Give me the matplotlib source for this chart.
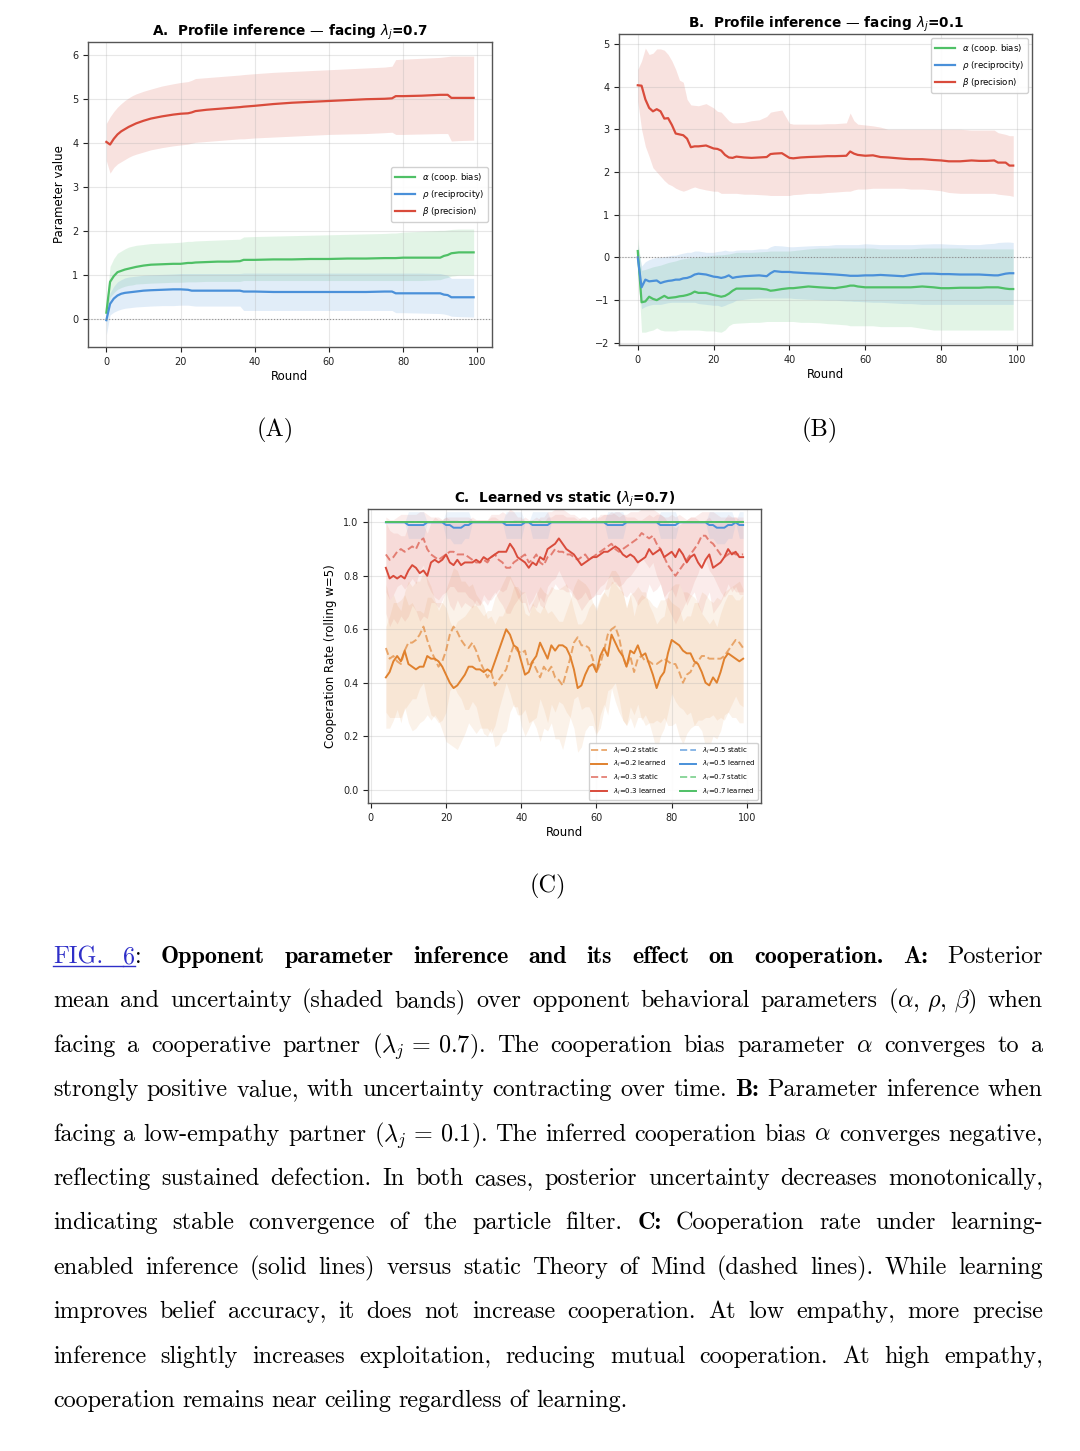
import re
import numpy as np
import matplotlib
matplotlib.use("Agg")
import matplotlib.pyplot as plt
from matplotlib.lines import Line2D

# ---------------- data: panel A (facing lambda_j = 0.7) ----------------
rounds_a = [0, 1, 2, 3, 4, 5, 6, 7, 8,
            10, 12, 15, 18, 20,
            22, 23, 24, 27, 30,
            33, 36, 37, 40, 45,
            50, 55, 60, 65, 70,
            75, 77, 78, 80, 85,
            90, 91, 92, 93, 95, 99]
beta_a = [4.03, 3.97, 4.10, 4.20, 4.27, 4.32, 4.37, 4.41, 4.45,
          4.51, 4.56, 4.61, 4.65, 4.67,
          4.68, 4.70, 4.73, 4.76, 4.78,
          4.80, 4.82, 4.83, 4.85, 4.89,
          4.92, 4.94, 4.96, 4.98, 5.00,
          5.01, 5.02, 5.07, 5.07, 5.08,
          5.10, 5.10, 5.10, 5.03, 5.03, 5.03]
beta_a_hi = [4.45, 4.60, 4.72, 4.82, 4.90, 4.97, 5.03, 5.08, 5.12,
             5.18, 5.23, 5.30, 5.35, 5.38,
             5.40, 5.43, 5.47, 5.49, 5.51,
             5.53, 5.55, 5.56, 5.58, 5.61,
             5.63, 5.65, 5.67, 5.69, 5.71,
             5.73, 5.75, 5.90, 5.91, 5.93,
             5.95, 5.96, 5.97, 5.98, 5.98, 5.98]
beta_a_lo = [3.60, 3.32, 3.45, 3.53, 3.58, 3.63, 3.68, 3.72, 3.75,
             3.80, 3.85, 3.90, 3.94, 3.96,
             3.98, 4.00, 4.02, 4.04, 4.06,
             4.08, 4.10, 4.10, 4.12, 4.14,
             4.16, 4.18, 4.20, 4.21, 4.22,
             4.24, 4.25, 4.20, 4.20, 4.21,
             4.22, 4.22, 4.22, 4.05, 4.06, 4.07]
alpha_a = [0.15, 0.85, 0.98, 1.07, 1.10, 1.13, 1.15, 1.17, 1.19,
           1.22, 1.24, 1.25, 1.26, 1.26,
           1.28, 1.28, 1.29, 1.30, 1.31,
           1.31, 1.32, 1.35, 1.35, 1.36,
           1.36, 1.37, 1.37, 1.38, 1.38,
           1.39, 1.39, 1.39, 1.40, 1.40,
           1.40, 1.44, 1.46, 1.50, 1.52, 1.52]
alpha_a_hi = [0.35, 1.20, 1.38, 1.50, 1.55, 1.60, 1.64, 1.66, 1.68,
              1.70, 1.72, 1.73, 1.74, 1.75,
              1.77, 1.77, 1.78, 1.79, 1.80,
              1.81, 1.82, 1.87, 1.88, 1.89,
              1.90, 1.91, 1.92, 1.93, 1.94,
              1.95, 1.96, 1.96, 1.98, 2.00,
              2.02, 2.02, 2.03, 2.04, 2.05, 2.05]
alpha_a_lo = [-0.05, 0.50, 0.60, 0.68, 0.72, 0.75, 0.77, 0.78, 0.80,
              0.81, 0.82, 0.83, 0.84, 0.84,
              0.85, 0.85, 0.85, 0.86, 0.86,
              0.86, 0.86, 0.88, 0.88, 0.88,
              0.88, 0.88, 0.88, 0.88, 0.88,
              0.88, 0.88, 0.88, 0.88, 0.88,
              0.90, 0.93, 0.95, 0.98, 1.00, 1.00]
rho_a = [-0.02, 0.35, 0.47, 0.54, 0.58, 0.60, 0.61, 0.62, 0.63,
         0.65, 0.66, 0.67, 0.68, 0.68,
         0.67, 0.65, 0.65, 0.65, 0.65,
         0.65, 0.65, 0.63, 0.63, 0.62,
         0.62, 0.62, 0.62, 0.62, 0.62,
         0.63, 0.63, 0.59, 0.59, 0.59,
         0.59, 0.56, 0.55, 0.50, 0.50, 0.50]
rho_a_hi = [0.25, 0.60, 0.75, 0.85, 0.90, 0.94, 0.96, 0.97, 0.98,
            1.00, 1.01, 1.02, 1.03, 1.04,
            1.04, 1.04, 1.04, 1.04, 1.04,
            1.04, 1.04, 1.05, 1.05, 1.05,
            1.05, 1.05, 1.05, 1.05, 1.05,
            1.05, 1.05, 1.05, 1.05, 1.05,
            1.04, 1.02, 1.00, 0.93, 0.93, 0.93]
rho_a_lo = [-0.35, 0.10, 0.16, 0.20, 0.23, 0.25, 0.26, 0.27, 0.28,
            0.29, 0.30, 0.31, 0.31, 0.32,
            0.32, 0.31, 0.30, 0.30, 0.30,
            0.30, 0.30, 0.20, 0.20, 0.20,
            0.20, 0.20, 0.20, 0.20, 0.20,
            0.20, 0.20, 0.15, 0.15, 0.14,
            0.13, 0.12, 0.10, 0.07, 0.06, 0.05]

# ---------------- data: panel B (facing lambda_j = 0.1) ----------------
rounds_b = [0, 1, 2, 3, 4, 5, 6, 7, 8, 9,
            10, 11, 12, 13, 14, 15, 16, 18, 20, 21,
            22, 23, 24, 25, 26, 28, 30, 32, 34, 35,
            36, 38, 40, 41, 43, 45, 48, 50, 52, 55,
            56, 57, 58, 60, 62, 64, 66, 70, 72, 75,
            78, 80, 82, 85, 88, 90, 92, 94, 95, 97,
            98, 99]
beta_b = [4.03, 4.02, 3.70, 3.50, 3.42, 3.47, 3.42, 3.25, 3.26, 3.10,
          2.90, 2.88, 2.86, 2.78, 2.58, 2.60, 2.60, 2.62, 2.55, 2.54,
          2.50, 2.40, 2.34, 2.33, 2.36, 2.34, 2.33, 2.34, 2.35, 2.42,
          2.43, 2.44, 2.33, 2.32, 2.34, 2.35, 2.36, 2.37, 2.37, 2.38,
          2.48, 2.43, 2.40, 2.38, 2.39, 2.35, 2.34, 2.31, 2.30, 2.30,
          2.28, 2.27, 2.25, 2.25, 2.27, 2.26, 2.26, 2.27, 2.22, 2.22,
          2.15, 2.15]
beta_b_hi = [4.40, 4.60, 4.90, 4.75, 4.78, 4.88, 4.88, 4.85, 4.75, 4.60,
             4.40, 4.15, 4.10, 3.70, 3.57, 3.56, 3.55, 3.60, 3.50, 3.42,
             3.40, 3.30, 3.20, 3.15, 3.15, 3.16, 3.20, 3.22, 3.30, 3.40,
             3.42, 3.45, 3.14, 3.12, 3.12, 3.12, 3.12, 3.13, 3.13, 3.15,
             3.38, 3.20, 3.12, 3.10, 3.08, 3.05, 3.00, 3.00, 3.00, 3.00,
             3.00, 3.00, 3.00, 3.00, 2.98, 2.98, 2.98, 2.98, 2.92, 2.88,
             2.85, 2.85]
beta_b_lo = [3.65, 3.00, 2.60, 2.36, 2.10, 2.00, 1.90, 1.80, 1.72, 1.68,
             1.62, 1.58, 1.55, 1.58, 1.62, 1.65, 1.62, 1.58, 1.55, 1.55,
             1.50, 1.50, 1.50, 1.50, 1.50, 1.48, 1.48, 1.47, 1.46, 1.45,
             1.45, 1.45, 1.45, 1.47, 1.48, 1.50, 1.50, 1.52, 1.53, 1.55,
             1.55, 1.58, 1.60, 1.60, 1.62, 1.62, 1.62, 1.62, 1.60, 1.60,
             1.58, 1.56, 1.52, 1.50, 1.50, 1.50, 1.50, 1.50, 1.48, 1.46,
             1.45, 1.43]
rho_b = [0.00, -0.70, -0.52, -0.56, -0.55, -0.54, -0.60, -0.57, -0.55, -0.54,
         -0.52, -0.52, -0.49, -0.48, -0.45, -0.40, -0.38, -0.40, -0.45, -0.46,
         -0.48, -0.46, -0.42, -0.48, -0.46, -0.44, -0.43, -0.42, -0.44, -0.37,
         -0.32, -0.34, -0.34, -0.35, -0.36, -0.37, -0.38, -0.39, -0.40, -0.42,
         -0.43, -0.43, -0.43, -0.42, -0.42, -0.41, -0.42, -0.44, -0.41, -0.38,
         -0.38, -0.39, -0.39, -0.40, -0.40, -0.40, -0.41, -0.42, -0.42, -0.38,
         -0.37, -0.37]
rho_b_hi = [0.30, -0.20, -0.10, -0.05, -0.02, 0.00, 0.00, 0.02, 0.03, 0.05,
            0.05, 0.08, 0.10, 0.12, 0.12, 0.15, 0.15, 0.12, 0.12, 0.14,
            0.15, 0.17, 0.15, 0.15, 0.17, 0.18, 0.18, 0.20, 0.20, 0.25,
            0.28, 0.27, 0.25, 0.25, 0.26, 0.27, 0.28, 0.28, 0.30, 0.30,
            0.30, 0.30, 0.30, 0.32, 0.31, 0.30, 0.30, 0.30, 0.30, 0.31,
            0.32, 0.32, 0.31, 0.30, 0.30, 0.30, 0.32, 0.33, 0.35, 0.36,
            0.36, 0.35]
rho_b_lo = [-0.25, -1.20, -1.15, -1.12, -1.10, -1.10, -1.10, -1.08, -1.06, -1.05,
            -1.05, -1.05, -1.05, -1.05, -1.05, -1.05, -1.08, -1.10, -1.12, -1.12,
            -1.15, -1.12, -1.08, -1.05, -1.00, -0.98, -0.96, -0.95, -0.95, -0.95,
            -0.95, -0.95, -0.95, -0.96, -0.97, -0.98, -0.99, -1.00, -1.00, -1.02,
            -1.02, -1.03, -1.03, -1.04, -1.05, -1.05, -1.06, -1.08, -1.08, -1.10,
            -1.10, -1.10, -1.10, -1.10, -1.10, -1.10, -1.10, -1.10, -1.10, -1.10,
            -1.10, -1.10]
alpha_b = [0.15, -1.05, -1.03, -0.92, -0.97, -1.00, -0.95, -0.90, -0.95, -0.94,
           -0.93, -0.91, -0.90, -0.88, -0.85, -0.80, -0.83, -0.83, -0.88, -0.90,
           -0.92, -0.90, -0.85, -0.78, -0.73, -0.73, -0.73, -0.73, -0.75, -0.78,
           -0.77, -0.74, -0.72, -0.72, -0.70, -0.68, -0.70, -0.71, -0.72, -0.68,
           -0.66, -0.66, -0.68, -0.70, -0.70, -0.70, -0.70, -0.70, -0.70, -0.68,
           -0.70, -0.72, -0.72, -0.71, -0.71, -0.71, -0.70, -0.70, -0.70, -0.73,
           -0.74, -0.74]
alpha_b_hi = [0.45, -0.30, -0.28, -0.25, -0.22, -0.20, -0.18, -0.15, -0.12, -0.10,
              -0.08, -0.05, -0.03, -0.02, 0.00, 0.00, 0.02, 0.03, 0.05, 0.06,
              0.06, 0.07, 0.08, 0.10, 0.12, 0.12, 0.12, 0.13, 0.14, 0.15,
              0.15, 0.15, 0.15, 0.16, 0.18, 0.20, 0.22, 0.22, 0.22, 0.22,
              0.22, 0.22, 0.22, 0.22, 0.22, 0.20, 0.20, 0.20, 0.20, 0.22,
              0.22, 0.22, 0.22, 0.22, 0.20, 0.20, 0.20, 0.20, 0.20, 0.20,
              0.20, 0.20]
alpha_b_lo = [-0.15, -1.75, -1.75, -1.72, -1.70, -1.65, -1.70, -1.72, -1.72, -1.72,
              -1.72, -1.70, -1.70, -1.70, -1.70, -1.70, -1.70, -1.72, -1.72, -1.74,
              -1.75, -1.70, -1.60, -1.55, -1.54, -1.53, -1.52, -1.52, -1.50, -1.50,
              -1.50, -1.50, -1.50, -1.50, -1.52, -1.52, -1.53, -1.55, -1.56, -1.58,
              -1.60, -1.60, -1.60, -1.60, -1.60, -1.62, -1.62, -1.62, -1.62, -1.66,
              -1.70, -1.70, -1.70, -1.70, -1.70, -1.70, -1.70, -1.70, -1.70, -1.70,
              -1.70, -1.70]

# ---------------- data: panel C (rolling w=5, rounds 4..99) ----------------
rounds_c = np.arange(4, 100)
coop_02_learned = [0.42, 0.44, 0.48, 0.50, 0.48, 0.52, 0.47, 0.46, 0.45, 0.46,
                   0.46, 0.50, 0.49, 0.49, 0.48, 0.46, 0.43, 0.40, 0.38, 0.39,
                   0.41, 0.43, 0.46, 0.46, 0.45, 0.45, 0.44, 0.45, 0.44, 0.48,
                   0.52, 0.56, 0.60, 0.58, 0.54, 0.53, 0.48, 0.43, 0.44, 0.48,
                   0.50, 0.55, 0.52, 0.49, 0.54, 0.52, 0.54, 0.54, 0.53, 0.50,
                   0.45, 0.38, 0.39, 0.43, 0.46, 0.47, 0.44, 0.50, 0.53, 0.50,
                   0.58, 0.55, 0.52, 0.50, 0.46, 0.52, 0.51, 0.54, 0.50, 0.51,
                   0.47, 0.43, 0.38, 0.42, 0.44, 0.51, 0.56, 0.55, 0.54, 0.52,
                   0.51, 0.51, 0.48, 0.47, 0.44, 0.40, 0.39, 0.42, 0.40, 0.44,
                   0.49, 0.51, 0.50, 0.49, 0.48, 0.49]
coop_02_static = [0.53, 0.49, 0.50, 0.48, 0.47, 0.52, 0.55, 0.55, 0.56, 0.58,
                  0.61, 0.56, 0.52, 0.49, 0.46, 0.48, 0.52, 0.58, 0.61, 0.59,
                  0.56, 0.54, 0.53, 0.55, 0.52, 0.48, 0.45, 0.42, 0.44, 0.39,
                  0.41, 0.43, 0.45, 0.50, 0.54, 0.52, 0.51, 0.52, 0.46, 0.48,
                  0.45, 0.42, 0.46, 0.44, 0.46, 0.42, 0.41, 0.39, 0.44, 0.49,
                  0.55, 0.57, 0.54, 0.54, 0.53, 0.49, 0.44, 0.47, 0.52, 0.58,
                  0.60, 0.61, 0.57, 0.50, 0.46, 0.50, 0.44, 0.49, 0.50, 0.48,
                  0.48, 0.47, 0.47, 0.48, 0.49, 0.48, 0.47, 0.47, 0.44, 0.40,
                  0.43, 0.44, 0.47, 0.48, 0.50, 0.50, 0.49, 0.49, 0.49, 0.49,
                  0.50, 0.52, 0.54, 0.56, 0.55, 0.53]
coop_03_learned = [0.83, 0.79, 0.80, 0.79, 0.80, 0.79, 0.82, 0.84, 0.83, 0.81,
                   0.82, 0.80, 0.85, 0.86, 0.85, 0.86, 0.88, 0.85, 0.84, 0.86,
                   0.84, 0.85, 0.85, 0.85, 0.86, 0.85, 0.87, 0.86, 0.87, 0.88,
                   0.89, 0.89, 0.89, 0.92, 0.90, 0.87, 0.86, 0.85, 0.83, 0.85,
                   0.84, 0.87, 0.86, 0.90, 0.91, 0.92, 0.94, 0.92, 0.90, 0.89,
                   0.88, 0.86, 0.84, 0.85, 0.86, 0.87, 0.87, 0.88, 0.89, 0.89,
                   0.90, 0.91, 0.90, 0.88, 0.87, 0.88, 0.87, 0.85, 0.86, 0.87,
                   0.90, 0.88, 0.89, 0.90, 0.87, 0.88, 0.89, 0.87, 0.90, 0.88,
                   0.85, 0.87, 0.88, 0.85, 0.83, 0.86, 0.88, 0.83, 0.84, 0.85,
                   0.87, 0.90, 0.88, 0.89, 0.87, 0.87]
coop_03_static = [0.88, 0.86, 0.87, 0.89, 0.90, 0.89, 0.90, 0.91, 0.90, 0.93,
                  0.94, 0.90, 0.88, 0.87, 0.86, 0.87, 0.88, 0.89, 0.89, 0.88,
                  0.88, 0.88, 0.87, 0.86, 0.85, 0.85, 0.86, 0.85, 0.87, 0.88,
                  0.86, 0.85, 0.83, 0.83, 0.85, 0.86, 0.87, 0.88, 0.85, 0.86,
                  0.88, 0.85, 0.84, 0.87, 0.88, 0.90, 0.89, 0.89, 0.88, 0.88,
                  0.87, 0.86, 0.87, 0.88, 0.86, 0.87, 0.88, 0.89, 0.90, 0.91,
                  0.92, 0.90, 0.89, 0.90, 0.91, 0.92, 0.93, 0.94, 0.96, 0.95,
                  0.94, 0.95, 0.92, 0.90, 0.87, 0.84, 0.82, 0.80, 0.82, 0.84,
                  0.86, 0.88, 0.90, 0.92, 0.95, 0.95, 0.93, 0.92, 0.90, 0.88,
                  0.87, 0.88, 0.89, 0.88, 0.88, 0.88]
coop_05_learned = [1.00, 1.00, 1.00, 1.00, 1.00, 1.00, 0.99, 0.99, 0.99, 0.99,
                   0.99, 1.00, 1.00, 1.00, 1.00, 1.00, 0.99, 0.99, 0.98, 0.98,
                   0.98, 0.99, 0.99, 1.00, 1.00, 1.00, 1.00, 1.00, 1.00, 1.00,
                   1.00, 1.00, 0.99, 0.99, 0.99, 0.99, 0.99, 1.00, 1.00, 0.99,
                   0.99, 0.99, 0.99, 0.99, 1.00, 1.00, 1.00, 1.00, 1.00, 1.00,
                   1.00, 1.00, 1.00, 1.00, 1.00, 1.00, 1.00, 1.00, 1.00, 0.99,
                   0.99, 0.99, 0.99, 0.99, 1.00, 1.00, 1.00, 1.00, 1.00, 1.00,
                   1.00, 1.00, 1.00, 0.99, 0.99, 0.99, 0.99, 0.99, 1.00, 1.00,
                   1.00, 1.00, 1.00, 1.00, 1.00, 1.00, 0.99, 0.99, 0.98, 0.98,
                   0.98, 0.99, 0.99, 1.00, 0.99, 0.99]
coop_05_static = [1.00] * 96
coop_07_learned = [1.00] * 96
coop_07_static = [1.00] * 96

sd_02_learned = [0.19, 0.21, 0.22, 0.20, 0.23, 0.21, 0.22, 0.24, 0.22, 0.21,
                 0.20, 0.22, 0.23, 0.21, 0.22, 0.24, 0.25, 0.23, 0.22, 0.24,
                 0.23, 0.22, 0.21, 0.23, 0.24, 0.22, 0.21, 0.22, 0.23, 0.24,
                 0.22, 0.21, 0.20, 0.22, 0.23, 0.22, 0.24, 0.23, 0.21, 0.22,
                 0.23, 0.21, 0.22, 0.24, 0.22, 0.23, 0.21, 0.22, 0.24, 0.23,
                 0.22, 0.24, 0.23, 0.21, 0.22, 0.23, 0.24, 0.22, 0.21, 0.22,
                 0.20, 0.22, 0.23, 0.24, 0.22, 0.21, 0.23, 0.22, 0.24, 0.23,
                 0.22, 0.23, 0.24, 0.22, 0.21, 0.22, 0.20, 0.22, 0.23, 0.22,
                 0.23, 0.22, 0.24, 0.23, 0.22, 0.24, 0.23, 0.22, 0.21, 0.22,
                 0.21, 0.22, 0.23, 0.22, 0.23, 0.24]
sd_02_static = [0.24, 0.22, 0.23, 0.21, 0.20, 0.22, 0.23, 0.21, 0.22, 0.20,
                0.21, 0.23, 0.24, 0.22, 0.21, 0.22, 0.23, 0.21, 0.22, 0.23,
                0.22, 0.24, 0.23, 0.22, 0.21, 0.23, 0.24, 0.22, 0.21, 0.23,
                0.24, 0.22, 0.23, 0.21, 0.22, 0.24, 0.23, 0.22, 0.21, 0.22,
                0.22, 0.24, 0.23, 0.22, 0.21, 0.23, 0.22, 0.24, 0.23, 0.22,
                0.21, 0.22, 0.24, 0.23, 0.22, 0.21, 0.23, 0.24, 0.22, 0.21,
                0.22, 0.21, 0.23, 0.24, 0.22, 0.23, 0.21, 0.22, 0.23, 0.24,
                0.23, 0.22, 0.21, 0.23, 0.22, 0.24, 0.23, 0.22, 0.24, 0.23,
                0.22, 0.21, 0.23, 0.22, 0.24, 0.23, 0.22, 0.21, 0.23, 0.22,
                0.24, 0.23, 0.22, 0.21, 0.23, 0.22]
sd_03_learned = [0.17, 0.18, 0.16, 0.17, 0.15, 0.16, 0.17, 0.15, 0.16, 0.18,
                 0.17, 0.16, 0.15, 0.16, 0.17, 0.15, 0.14, 0.16, 0.17, 0.15,
                 0.16, 0.15, 0.16, 0.17, 0.15, 0.16, 0.14, 0.15, 0.16, 0.15,
                 0.14, 0.15, 0.14, 0.13, 0.14, 0.15, 0.16, 0.15, 0.17, 0.16,
                 0.16, 0.15, 0.16, 0.14, 0.13, 0.13, 0.12, 0.13, 0.14, 0.14,
                 0.15, 0.16, 0.17, 0.16, 0.15, 0.15, 0.14, 0.15, 0.14, 0.14,
                 0.13, 0.13, 0.14, 0.15, 0.15, 0.14, 0.15, 0.16, 0.15, 0.15,
                 0.13, 0.14, 0.14, 0.13, 0.15, 0.14, 0.14, 0.15, 0.13, 0.14,
                 0.16, 0.15, 0.14, 0.16, 0.17, 0.15, 0.14, 0.17, 0.16, 0.15,
                 0.14, 0.13, 0.14, 0.13, 0.14, 0.14]
sd_03_static = [0.14, 0.15, 0.14, 0.13, 0.13, 0.14, 0.13, 0.12, 0.13, 0.11,
                0.10, 0.13, 0.14, 0.15, 0.15, 0.14, 0.14, 0.13, 0.13, 0.14,
                0.14, 0.14, 0.15, 0.15, 0.16, 0.16, 0.15, 0.16, 0.15, 0.14,
                0.15, 0.16, 0.17, 0.17, 0.16, 0.15, 0.14, 0.14, 0.16, 0.15,
                0.14, 0.16, 0.16, 0.15, 0.14, 0.13, 0.14, 0.14, 0.14, 0.14,
                0.15, 0.15, 0.15, 0.14, 0.15, 0.15, 0.14, 0.13, 0.13, 0.12,
                0.12, 0.13, 0.13, 0.13, 0.12, 0.12, 0.11, 0.10, 0.09, 0.10,
                0.11, 0.10, 0.12, 0.13, 0.15, 0.16, 0.17, 0.18, 0.17, 0.16,
                0.15, 0.14, 0.12, 0.11, 0.09, 0.09, 0.11, 0.12, 0.13, 0.14,
                0.15, 0.14, 0.13, 0.14, 0.14, 0.14]
sd_05_learned = [0.00, 0.00, 0.00, 0.00, 0.00, 0.00, 0.05, 0.05, 0.05, 0.05,
                 0.05, 0.00, 0.00, 0.00, 0.00, 0.00, 0.05, 0.05, 0.06, 0.06,
                 0.06, 0.05, 0.05, 0.00, 0.00, 0.00, 0.00, 0.00, 0.00, 0.00,
                 0.00, 0.00, 0.05, 0.05, 0.05, 0.05, 0.05, 0.00, 0.00, 0.05,
                 0.05, 0.05, 0.05, 0.05, 0.00, 0.00, 0.00, 0.00, 0.00, 0.00,
                 0.00, 0.00, 0.00, 0.00, 0.00, 0.00, 0.00, 0.00, 0.00, 0.05,
                 0.05, 0.05, 0.05, 0.05, 0.00, 0.00, 0.00, 0.00, 0.00, 0.00,
                 0.00, 0.00, 0.00, 0.05, 0.05, 0.05, 0.05, 0.05, 0.00, 0.00,
                 0.00, 0.00, 0.00, 0.00, 0.00, 0.00, 0.05, 0.05, 0.06, 0.06,
                 0.06, 0.05, 0.05, 0.00, 0.05, 0.05]
sd_zero = [0.00] * 96

# ---------------- text ----------------
caption_lines = [
    r"[[FIG. 6]]: **Opponent parameter inference and its effect on cooperation. A:** Posterior",
    r"mean and uncertainty (shaded bands) over opponent behavioral parameters $(\alpha,\,\rho,\,\beta)$ when",
    r"facing a cooperative partner $(\lambda_j\,=\,0.7)$. The cooperation bias parameter $\alpha$ converges to a",
    r"strongly positive value, with uncertainty contracting over time. **B:** Parameter inference when",
    r"facing a low-empathy partner $(\lambda_j\,=\,0.1)$. The inferred cooperation bias $\alpha$ converges negative,",
    r"reflecting sustained defection. In both cases, posterior uncertainty decreases monotonically,",
    r"indicating stable convergence of the particle filter. **C:** Cooperation rate under learning-",
    r"enabled inference (solid lines) versus static Theory of Mind (dashed lines). While learning",
    r"improves belief accuracy, it does not increase cooperation. At low empathy, more precise",
    r"inference slightly increases exploitation, reducing mutual cooperation. At high empathy,",
    r"cooperation remains near ceiling regardless of learning.",
]

GREEN, BLUE, RED, ORANGE = '#4fc066', '#4a90d9', '#d94b3b', '#e0812e'

W, H = 1080, 1451
fig = plt.figure(figsize=(W / 100, H / 100), dpi=100)


def px_axes(l, t, r, b):
    return fig.add_axes([l / W, 1 - b / H, (r - l) / W, (b - t) / H])


def style(ax):
    ax.grid(True, color='#b0b0b0', alpha=0.3, lw=0.8)
    ax.tick_params(labelsize=7, length=3.5, width=0.8, colors='#222')
    for s in ax.spines.values():
        s.set_color('#555')
        s.set_linewidth(1.0)


labels_abr = [r'$\alpha$ (coop. bias)', r'$\rho$ (reciprocity)', r'$\beta$ (precision)']

# ---- A ----
axA = px_axes(88, 42, 492, 347)
for (m, lo, hi), c, lab in zip([(alpha_a, alpha_a_lo, alpha_a_hi),
                                (rho_a, rho_a_lo, rho_a_hi),
                                (beta_a, beta_a_lo, beta_a_hi)],
                               [GREEN, BLUE, RED], labels_abr):
    axA.fill_between(rounds_a, lo, hi, color=c, alpha=0.16, lw=0)
    axA.plot(rounds_a, m, color=c, lw=1.6, label=lab)
axA.axhline(0, color='gray', ls=':', lw=0.8, alpha=0.8)
axA.set_ylim(-0.63, 6.3)
style(axA)
axA.set_xlabel('Round', fontsize=8.5, labelpad=2)
axA.set_ylabel('Parameter value', fontsize=8.5, labelpad=4)
axA.set_title(r'A.  Profile inference — facing $\lambda_j$=0.7', fontsize=9.8, fontweight='bold', pad=4)
axA.legend(loc='center right', fontsize=6.2, handlelength=2.4, framealpha=0.9)

# ---- B ----
axB = px_axes(619, 34, 1032, 345)
for (m, lo, hi), c, lab in zip([(alpha_b, alpha_b_lo, alpha_b_hi),
                                (rho_b, rho_b_lo, rho_b_hi),
                                (beta_b, beta_b_lo, beta_b_hi)],
                               [GREEN, BLUE, RED], labels_abr):
    axB.fill_between(rounds_b, lo, hi, color=c, alpha=0.16, lw=0)
    axB.plot(rounds_b, m, color=c, lw=1.6, label=lab)
axB.axhline(0, color='gray', ls=':', lw=0.8, alpha=0.8)
axB.set_ylim(-2.05, 5.23)
style(axB)
axB.set_xlabel('Round', fontsize=8.5, labelpad=2)
axB.set_title(r'B.  Profile inference — facing $\lambda_j$=0.1', fontsize=9.8, fontweight='bold', pad=4)
axB.legend(loc='upper right', fontsize=6.2, handlelength=2.4, framealpha=0.9)

# ---- C ----
axC = px_axes(368, 509, 761, 803)
series_c = [
    (coop_02_static, sd_02_static, ORANGE, '--', r'$\lambda_i$=0.2 static'),
    (coop_02_learned, sd_02_learned, ORANGE, '-', r'$\lambda_i$=0.2 learned'),
    (coop_03_static, sd_03_static, RED, '--', r'$\lambda_i$=0.3 static'),
    (coop_03_learned, sd_03_learned, RED, '-', r'$\lambda_i$=0.3 learned'),
    (coop_05_static, sd_zero, BLUE, '--', r'$\lambda_i$=0.5 static'),
    (coop_05_learned, sd_05_learned, BLUE, '-', r'$\lambda_i$=0.5 learned'),
    (coop_07_static, sd_zero, GREEN, '--', r'$\lambda_i$=0.7 static'),
    (coop_07_learned, sd_zero, GREEN, '-', r'$\lambda_i$=0.7 learned'),
]
for m, sd, c, ls, lab in series_c:
    m = np.array(m)
    sd = np.array(sd)
    axC.fill_between(rounds_c, m - sd, m + sd, color=c, alpha=0.1, lw=0)
    axC.plot(rounds_c, m, color=c, ls=ls, lw=1.4, alpha=0.65 if ls == '--' else 1.0, label=lab)
axC.set_ylim(-0.05, 1.05)
axC.set_xticks([0, 20, 40, 60, 80, 100])
style(axC)
axC.set_xlabel('Round', fontsize=8.5, labelpad=2)
axC.set_ylabel('Cooperation Rate (rolling w=5)', fontsize=8.5, labelpad=4)
axC.set_title(r'C.  Learned vs static ($\lambda_j$=0.7)', fontsize=9.8, fontweight='bold', pad=4)
axC.legend(loc='lower right', fontsize=5, ncol=2, handlelength=2.3, columnspacing=2.0, framealpha=0.9)

# ---- sub-figure labels ----
for s, x, y in [('(A)', 275, 430), ('(B)', 820, 430), ('(C)', 548, 886)]:
    fig.text(x / W, 1 - y / H, s, family='cmr10', fontsize=17.5, ha='center', va='center')

# ---- justified caption ----
cap_size = 20
styles = {'r': dict(family='cmr10', color='black'),
          'b': dict(family='cmb10', color='black'),
          'l': dict(family='cmr10', color='#2f2fc8')}


def parse(line):
    runs, st = [], 'r'
    for tok in re.split(r'(\*\*|\[\[|\]\])', line):
        if tok == '**':
            st = 'r' if st == 'b' else 'b'
        elif tok == '[[':
            st = 'l'
        elif tok == ']]':
            st = 'r'
        elif tok:
            runs.append((tok, st))
    words = [[]]
    for text, s in runs:
        for k, p in enumerate(text.split(' ')):
            if k > 0:
                words.append([])
            if p:
                words[-1].append((p, s))
    return [w for w in words if w]


renderer = fig.canvas.get_renderer()
lines = []
for line in caption_lines:
    words = []
    for w in parse(line):
        words.append([(fig.text(0, 0, t, fontsize=cap_size, va='baseline', math_fontfamily='cm', **styles[s]), s)
                      for t, s in w])
    lines.append(words)


def wwidth(word):
    return sum(t.get_window_extent(renderer).width for t, _ in word)


left, right = 53, 1043
space = 0.3 * cap_size * 100 / 72
natural = max(sum(wwidth(w) for w in words) + space * (len(words) - 1) for words in lines[:-1])
if natural > (right - left) * 0.99:
    cap_size *= (right - left) * 0.99 / natural
    space = 0.3 * cap_size * 100 / 72
    for words in lines:
        for w in words:
            for t, _ in w:
                t.set_fontsize(cap_size)

for i, words in enumerate(lines):
    y = 963 + i * 44.4
    widths = [wwidth(w) for w in words]
    if i < len(lines) - 1:
        gap = (right - left - sum(widths)) / (len(words) - 1)
    else:
        gap = space
    x = left
    for w, ww in zip(words, widths):
        for t, s in w:
            t.set_position((x / W, 1 - y / H))
            tw = t.get_window_extent(renderer).width
            if s == 'l':
                fig.add_artist(Line2D([x / W, (x + tw + (gap if t.get_text() == 'FIG.' else 0)) / W],
                                      [1 - (y + 3) / H] * 2, color='#2f2fc8', lw=1.0,
                                      transform=fig.transFigure))
            x += tw
        x += gap

fig.savefig('out.png', dpi=100)
